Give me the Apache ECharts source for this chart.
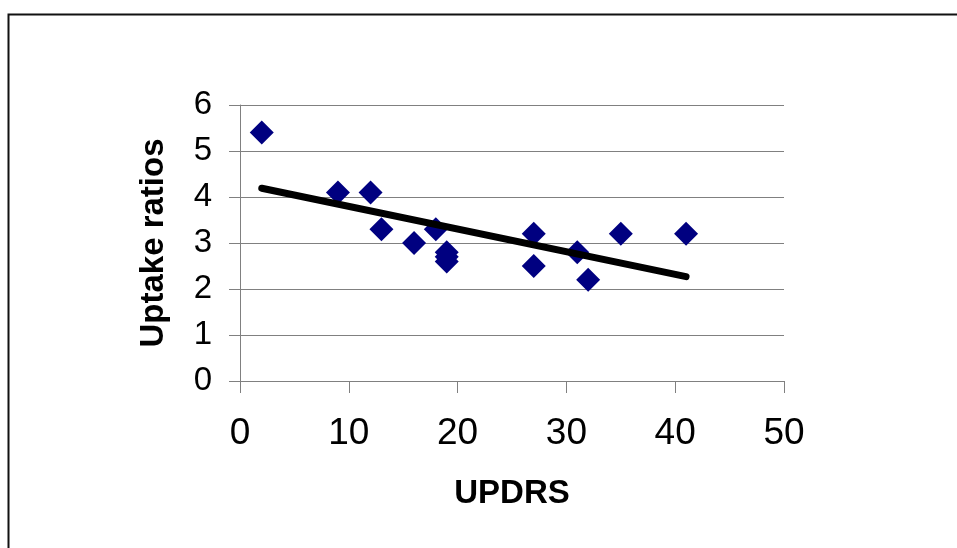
<!DOCTYPE html>
<html>
<head>
<meta charset="utf-8">
<script src="https://cdn.jsdelivr.net/npm/echarts@6/dist/echarts.min.js"></script>
<style>html,body{margin:0;padding:0;background:#fff;}#c{width:957px;height:548px;}</style>
</head>
<body>
<div id="c"></div>
<script>
var updrs  = [2, 9, 12, 13, 16, 18, 19, 19, 19, 27, 27, 31, 32, 35, 41];
var uptake = [5.4, 4.1, 4.1, 3.3, 3.0, 3.3, 2.8, 2.7, 2.6, 3.2, 2.5, 2.8, 2.2, 3.2, 3.2];
var trendX = [2, 41];
var trendY = [4.19, 2.27];
var xTitle = 'UPDRS';
var yTitle = 'Uptake ratios';

var pts = updrs.map(function (x, i) { return [x, uptake[i]]; });
var trend = trendX.map(function (x, i) { return [x, trendY[i]]; });
var FONT = "'Liberation Sans', Arial, sans-serif";

var chart = echarts.init(document.getElementById('c'), null, {renderer: 'canvas'});
chart.setOption({
  animation: false,
  backgroundColor: '#fff',
  graphic: [{
    type: 'rect', left: 6, top: 12, z: 100,
    shape: {x: 0, y: 0, width: 1000, height: 600},
    style: {fill: 'none', stroke: '#111', lineWidth: 2}
  }],
  grid: {left: 240, right: 173, top: 105, bottom: 167},
  xAxis: {
    type: 'value', min: 0, max: 50, interval: 10,
    name: xTitle, nameLocation: 'middle', nameGap: 96,
    nameTextStyle: {fontFamily: FONT, fontWeight: 'bold', fontSize: 33, color: '#000'},
    axisLine: {show: true, onZero: false, lineStyle: {color: '#808080', width: 1}},
    axisTick: {show: true, inside: false, length: 12, lineStyle: {color: '#808080'}},
    axisLabel: {fontFamily: FONT, fontSize: 37, color: '#000', margin: 34},
    splitLine: {show: false}
  },
  yAxis: {
    type: 'value', min: 0, max: 6, interval: 1,
    name: yTitle, nameLocation: 'middle', nameGap: 70,
    nameTextStyle: {fontFamily: FONT, fontWeight: 'bold', fontSize: 33, color: '#000'},
    axisLine: {show: true, onZero: false, lineStyle: {color: '#808080', width: 1}},
    axisTick: {show: true, inside: false, length: 11, lineStyle: {color: '#808080'}},
    axisLabel: {fontFamily: FONT, fontSize: 33, color: '#000', margin: 28},
    splitLine: {show: true, lineStyle: {color: '#808080', width: 1}}
  },
  series: [{
    type: 'scatter',
    data: pts,
    symbol: 'diamond',
    symbolSize: 24,
    itemStyle: {color: '#000080', opacity: 1},
    z: 2
  }, {
    type: 'line',
    data: trend,
    showSymbol: false,
    symbol: 'none',
    lineStyle: {color: '#000', width: 7, cap: 'round'},
    z: 3
  }]
});
</script>
</body>
</html>
